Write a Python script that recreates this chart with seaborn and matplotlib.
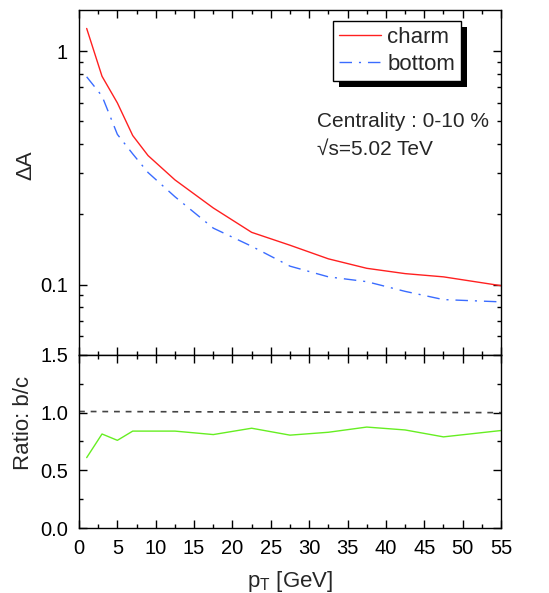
import numpy as np
import pandas as pd
import matplotlib
matplotlib.use('Agg')
import matplotlib.pyplot as plt
import seaborn as sns
from matplotlib.ticker import FixedLocator, MultipleLocator, NullFormatter
from matplotlib.patches import Rectangle

# data
pt = [1, 3, 5, 7, 9, 12.5, 17.5, 22.5, 27.5, 32.5, 37.5, 42.5, 47.5, 55]
charm = [1.25, 0.78, 0.60, 0.435, 0.357, 0.281, 0.213, 0.1675, 0.1475,
         0.129, 0.1175, 0.1115, 0.108, 0.099]
bottom = [0.776, 0.642, 0.44, 0.363, 0.302, 0.238, 0.1746, 0.146, 0.12,
          0.108, 0.103, 0.0936, 0.0863, 0.0844]
ratio = [0.61, 0.815, 0.76, 0.84, 0.84, 0.84, 0.81, 0.865, 0.805, 0.83,
         0.875, 0.85, 0.79, 0.845]
ref_x = [0, 55]
ref_y = [1.01, 1.0]

sns.set_theme(style='ticks')
plt.rcParams['font.family'] = ['Liberation Sans', 'DejaVu Sans']
plt.rcParams['mathtext.fontset'] = 'custom'
plt.rcParams['mathtext.rm'] = 'Liberation Sans'
plt.rcParams['mathtext.it'] = 'Liberation Sans:italic'
plt.rcParams['axes.linewidth'] = 1.0
plt.rcParams['axes.edgecolor'] = 'black'

fig = plt.figure(figsize=(5.49, 5.93), dpi=100)
ax1 = fig.add_axes([0.1439, 0.4014, 0.7687, 0.5818])
ax2 = fig.add_axes([0.1439, 0.1096, 0.7687, 0.2918], sharex=ax1)

df = pd.DataFrame({'pt': pt, 'charm': charm, 'bottom': bottom, 'ratio': ratio})

sns.lineplot(data=df, x='pt', y='charm', ax=ax1, color='#ff2020', lw=1.0,
             label='charm')
sns.lineplot(data=df, x='pt', y='bottom', ax=ax1, color='#3a6cff', lw=1.0,
             label='bottom', dashes=False)
ax1.lines[1].set_dashes((9, 5, 1.5, 5))

ax1.set_yscale('log')
ax1.set_ylim(0.05, 1.5)
ax1.set_xlim(0, 55)
ax1.yaxis.set_major_locator(FixedLocator([0.1, 1]))
ax1.set_yticklabels(['0.1', '1'])
ax1.yaxis.set_minor_locator(FixedLocator([0.06, 0.07, 0.08, 0.09, 0.2, 0.3, 0.4,
                                          0.5, 0.6, 0.7, 0.8, 0.9]))
ax1.yaxis.set_minor_formatter(NullFormatter())
ax1.set_xlabel('')
ax1.set_ylabel('ΔA', fontsize=16)
ax1.yaxis.set_label_coords(-0.1, 0.55)
ax1.tick_params(labelbottom=False)

sns.lineplot(data=df, x='pt', y='ratio', ax=ax2, color='#66ee22', lw=1.0)
sns.lineplot(x=ref_x, y=ref_y, ax=ax2, color='#444444', lw=1.2)
ax2.lines[1].set_dashes((3.5, 3.5))
ax2.set_ylim(0, 1.5)
ax2.set_yticks([0.0, 0.5, 1.0, 1.5])
ax2.set_yticklabels(['0.0', '0.5', '1.0', '1.5'])
ax2.yaxis.set_minor_locator(MultipleLocator(0.25))
ax2.xaxis.set_major_locator(MultipleLocator(5))
ax2.xaxis.set_minor_locator(MultipleLocator(2.5))
ax2.set_xlabel(r'p$_{\mathrm{T}}$ [GeV]', fontsize=16, labelpad=8)
ax2.set_ylabel('Ratio: b/c', fontsize=16)
ax2.yaxis.set_label_coords(-0.107, 0.61)

for ax in (ax1, ax2):
    ax.tick_params(which='both', direction='in', top=True, right=True,
                   colors='black', labelsize=14.5, pad=8)
    ax.tick_params(which='major', length=6, width=1.0)
    ax.tick_params(which='minor', length=3, width=1.0)
    for s in ax.spines.values():
        s.set_visible(True)
        s.set_color('black')

ax1.text(0.564, 0.661, 'Centrality : 0-10 %', transform=ax1.transAxes,
         fontsize=15, va='baseline')
ax1.text(0.564, 0.58, '√s=5.02 TeV', transform=ax1.transAxes,
         fontsize=15, va='baseline')

leg = ax1.legend(loc='upper right', bbox_to_anchor=(0.905, 0.968),
                 borderaxespad=0, fontsize=16, frameon=True, fancybox=False,
                 framealpha=1, edgecolor='black', handlelength=1.9,
                 handletextpad=0.3, borderpad=0.25, labelspacing=0.3)
leg.get_frame().set_linewidth(1.0)

# black drop shadow behind the legend box
fig.canvas.draw()
bb = leg.get_window_extent()
inv = ax1.transAxes.inverted()
(x0, y0) = inv.transform((bb.x0 + 6, bb.y0 - 6))
(x1, y1) = inv.transform((bb.x1 + 6, bb.y1 - 6))
ax1.add_patch(Rectangle((x0, y0), x1 - x0, y1 - y0, transform=ax1.transAxes,
                        facecolor='black', edgecolor='none', clip_on=False,
                        zorder=4))

fig.savefig('out.png', dpi=100)
